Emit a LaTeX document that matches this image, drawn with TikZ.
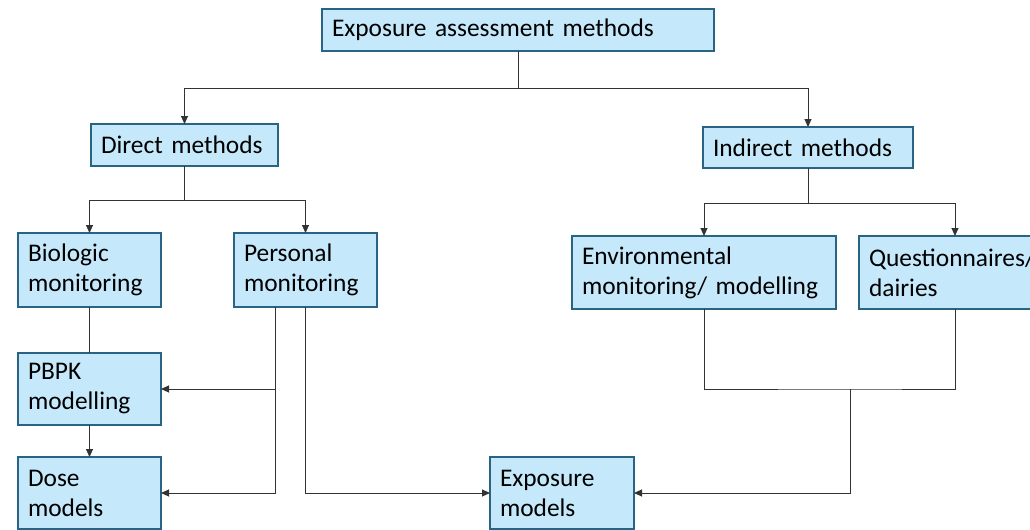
\documentclass[tikz,border=0pt]{standalone}
\usepackage{fontspec}
\setmainfont{Carlito}
\usetikzlibrary{arrows.meta}

\definecolor{boxfill}{HTML}{C5E9FB}
\definecolor{boxline}{HTML}{2A6485}
\definecolor{wirecol}{HTML}{333333}

\tikzset{
	box/.style={draw=boxline, fill=boxfill, line width=0.7pt, anchor=north west,
		align=left, inner xsep=5pt, inner ysep=0pt, outer sep=0pt,
		font=\fontsize{12.7}{15}\selectfont},
	wire/.style={draw=wirecol, line width=0.5pt}
}

\begin{document}
\begin{tikzpicture}[x=0.5pt, y=-0.5pt, >={Triangle[length=4pt,width=3.5pt]}, ->]

	\useasboundingbox (0,0) rectangle (1030,530);
	\clip (0,0) rectangle (1030,530);

	% draw boxes
	\node[box, text width=186pt, minimum height=21pt] (top) at (322,9) {Exposure assessment methods};
	\node[box, text width=83.5pt, minimum height=21pt] (direct) at (91,124) {Direct methods};
	\node[box, text width=95pt, minimum height=20.5pt] (indirect) at (703,127) {Indirect methods};
	\node[box, text width=61.5pt, minimum height=37pt] (bio) at (18,233) {Biologic\\monitoring};
	\node[box, text width=61.5pt, minimum height=37pt] (pers) at (234,233) {Personal\\monitoring};
	\node[box, text width=122pt, minimum height=36.5pt] (env) at (572,236) {Environmental\\monitoring/ modelling};
	\node[box, text width=86pt, minimum height=36.5pt] (quest) at (859,236) {Questionnaires/\\dairies};
	\node[box, text width=61.5pt, minimum height=36pt] (pbpk) at (18,353) {PBPK\\modelling};
	\node[box, text width=61.5pt, minimum height=36pt] (dose) at (18,457) {Dose\\models};
	\node[box, text width=62pt, minimum height=36pt] (expo) at (490,457) {Exposure\\models};

	% draw junctions
	\coordinate (j_top) at (518,88);
	\coordinate (j_dir) at (184.5,200);
	\coordinate (j_ind) at (808,203);
	\coordinate (j_env) at (850,389);

	% draw edges
	\draw[wire, -] (top.south) -- (j_top);
	\draw[wire] (j_top) -| (direct.north);
	\draw[wire] (j_top) -| (indirect.north);

	\draw[wire, -] (direct.south) -- (j_dir);
	\draw[wire] (j_dir) -| (bio.north);
	\draw[wire] (j_dir) -| (pers.north);

	\draw[wire, -] (indirect.south) -- (j_ind);
	\draw[wire] (j_ind) -| (env.north);
	\draw[wire] (j_ind) -| (quest.north);

	\draw[wire, -] (bio) -- (pbpk);
	\draw[wire] (pbpk) -- (dose);

	\draw[wire] (pers.south -| 275,0) |- (pbpk.east);
	\draw[wire] (pers.south -| 275,0) |- (dose.east);
	\draw[wire] (pers.south) |- (expo.west);

	\draw[wire, -] (env.south) |- (j_env) -| (quest.south);
	\draw[wire] (j_env) |- (expo.east);

\end{tikzpicture}
\end{document}
